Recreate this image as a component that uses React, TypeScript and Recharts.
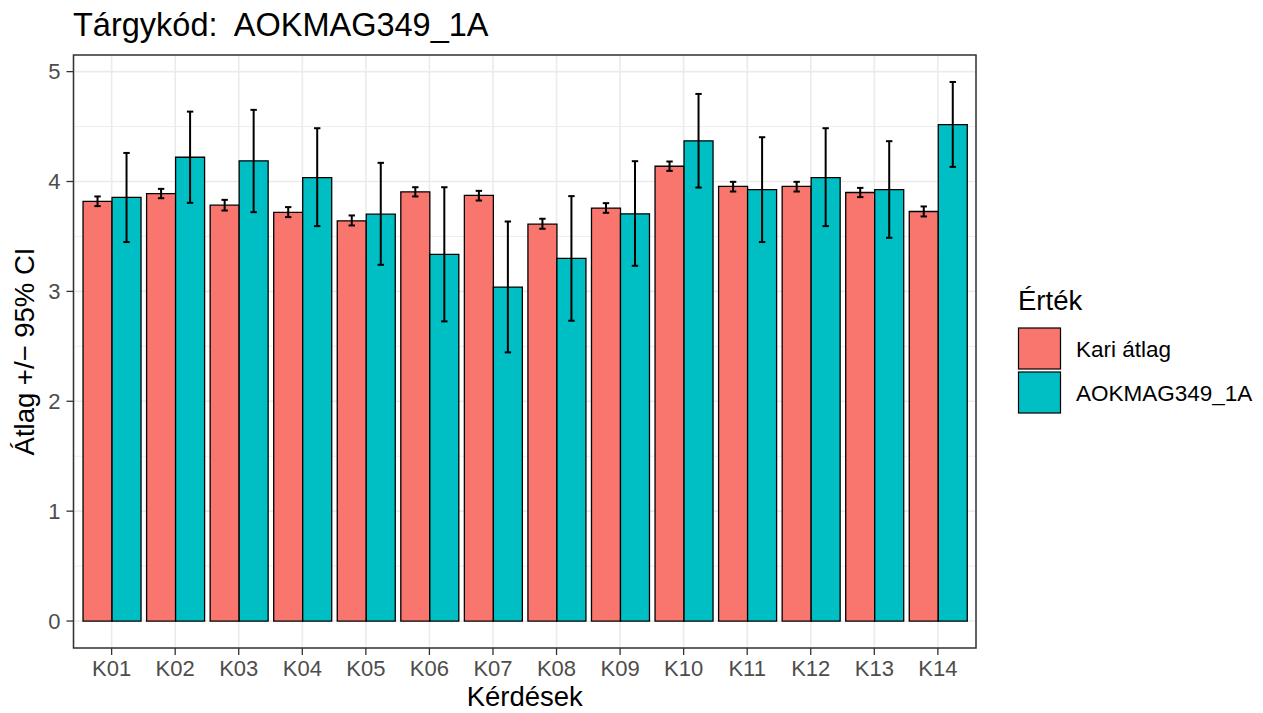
import React from "react";
import { BarChart, Bar, XAxis, YAxis, CartesianGrid, ErrorBar } from "recharts";

// ---- data ----
const categories = ["K01", "K02", "K03", "K04", "K05", "K06", "K07", "K08", "K09", "K10", "K11", "K12", "K13", "K14"];
const seriesNames = ["Kari átlag", "AOKMAG349_1A"];
const seriesColors = ["#F8766D", "#00BFC4"];

const kariMean = [3.82, 3.89, 3.785, 3.72, 3.642, 3.906, 3.873, 3.612, 3.758, 4.139, 3.955, 3.955, 3.9, 3.727];
const kariLow = [3.776, 3.848, 3.736, 3.676, 3.6, 3.864, 3.827, 3.57, 3.715, 4.097, 3.909, 3.909, 3.858, 3.682];
const kariHigh = [3.864, 3.933, 3.833, 3.767, 3.691, 3.948, 3.915, 3.661, 3.803, 4.182, 3.997, 3.997, 3.942, 3.773];

const courseMean = [3.855, 4.221, 4.188, 4.036, 3.703, 3.336, 3.039, 3.3, 3.706, 4.37, 3.927, 4.036, 3.927, 4.518];
const courseLow = [3.449, 3.806, 3.721, 3.594, 3.242, 2.727, 2.445, 2.733, 3.233, 3.945, 3.449, 3.594, 3.488, 4.133];
const courseHigh = [4.26, 4.636, 4.652, 4.485, 4.17, 3.948, 3.636, 3.867, 4.185, 4.797, 4.403, 4.485, 4.367, 4.906];

const yTicks = [0, 1, 2, 3, 4, 5];
const yMinorTicks = [0.5, 1.5, 2.5, 3.5, 4.5];

const titleText = "Tárgykód:  AOKMAG349_1A";
const xTitle = "Kérdések";
const yTitle = "Átlag +/− 95% CI";
const legendTitle = "Érték";

// ---- table built from the arrays ----
const data = categories.map((c, i) => ({
  cat: c,
  kari: kariMean[i],
  kariErr: [kariMean[i] - kariLow[i], kariHigh[i] - kariMean[i]],
  course: courseMean[i],
  courseErr: [courseMean[i] - courseLow[i], courseHigh[i] - courseMean[i]],
}));

const yDataMax = Math.max(...courseHigh, ...kariHigh);
const yPad = yDataMax * 0.05;
const yDomain = [-yPad, yDataMax + yPad];

// ---- layout ----
const W = 1263;
const H = 713;
const PANEL = { left: 73.5, top: 55, right: 976, bottom: 648 };
const FONT = "'Liberation Sans', Arial, Helvetica, sans-serif";
const bandPad = ((PANEL.right - PANEL.left) / 14.2) * 0.1;

export default function App() {
  return (
    <div style={{ position: "absolute", left: 0, top: 0, width: W, height: H, background: "#fff", fontFamily: FONT }}>
      <BarChart
        width={W}
        height={H}
        data={data}
        margin={{ top: PANEL.top, right: W - PANEL.right, bottom: 0, left: 0 }}
        barCategoryGap="5%"
        barGap={0}
        style={{ fontFamily: FONT }}
      >
        <CartesianGrid
          vertical={false}
          horizontalValues={yMinorTicks}
          stroke="#EBEBEB"
          strokeWidth={0.9}
        />
        <CartesianGrid stroke="#EBEBEB" strokeWidth={1.6} />
        <XAxis
          dataKey="cat"
          interval={0}
          height={H - PANEL.bottom}
          padding={{ left: bandPad, right: bandPad }}
          axisLine={false}
          tickSize={7}
          tickMargin={5}
          tickLine={{ stroke: "#333333", strokeWidth: 1.3 }}
          tick={{ fill: "#4D4D4D", fontSize: 22, fontFamily: FONT }}
        />
        <YAxis
          type="number"
          domain={yDomain}
          ticks={yTicks}
          allowDataOverflow
          width={PANEL.left}
          axisLine={false}
          tickSize={7}
          tickMargin={6}
          tickLine={{ stroke: "#333333", strokeWidth: 1.3 }}
          tick={{ fill: "#4D4D4D", fontSize: 22, fontFamily: FONT }}
        />
        <Bar dataKey="kari" name={seriesNames[0]} fill={seriesColors[0]} stroke="#000" strokeWidth={1.3} isAnimationActive={false}>
          <ErrorBar dataKey="kariErr" direction="y" width={3.2} stroke="#000" strokeWidth={2} />
        </Bar>
        <Bar dataKey="course" name={seriesNames[1]} fill={seriesColors[1]} stroke="#000" strokeWidth={1.3} isAnimationActive={false}>
          <ErrorBar dataKey="courseErr" direction="y" width={3.2} stroke="#000" strokeWidth={2} />
        </Bar>
      </BarChart>
      <svg
        width={W}
        height={H}
        style={{ position: "absolute", left: 0, top: 0, pointerEvents: "none", fontFamily: FONT }}
      >
        <rect
          x={PANEL.left}
          y={PANEL.top}
          width={PANEL.right - PANEL.left}
          height={PANEL.bottom - PANEL.top}
          fill="none"
          stroke="#333333"
          strokeWidth={1.5}
        />
        <text x={73} y={36} fontSize={32.5} fill="#000" style={{ whiteSpace: "pre" }} xmlSpace="preserve">
          {titleText}
        </text>
        <text x={(PANEL.left + PANEL.right) / 2} y={706} fontSize={27.5} fill="#000" textAnchor="middle">
          {xTitle}
        </text>
        <text
          x={0}
          y={0}
          fontSize={27.5}
          fill="#000"
          textAnchor="middle"
          transform={`translate(34, ${(PANEL.top + PANEL.bottom) / 2}) rotate(-90)`}
        >
          {yTitle}
        </text>
        <text x={1018} y={310} fontSize={27.5} fill="#000">
          {legendTitle}
        </text>
        {seriesNames.map((n, i) => (
          <g key={n}>
            <rect x={1018.5} y={328 + i * 44} width={42} height={41} fill={seriesColors[i]} stroke="#000" strokeWidth={1.2} />
            <text x={1076} y={328 + i * 44 + 20.5} dy="0.36em" fontSize={22.5} fill="#000">
              {n}
            </text>
          </g>
        ))}
      </svg>
    </div>
  );
}
